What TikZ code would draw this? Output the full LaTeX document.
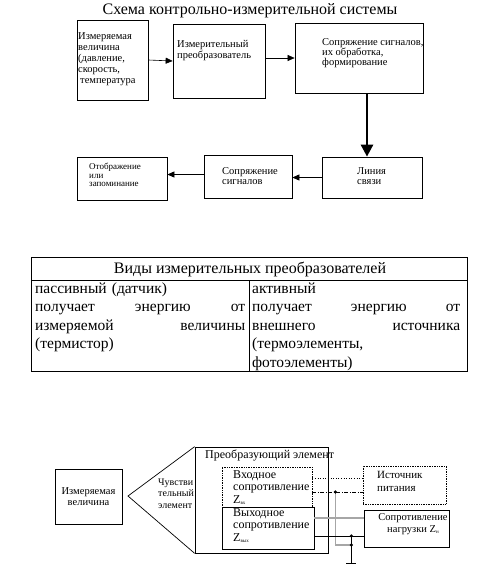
\documentclass[tikz,border=0pt]{standalone}
\usepackage{fontspec}
\setmainfont{Liberation Serif}
\usetikzlibrary{arrows.meta}
\newcommand{\zsub}[1]{Z\raisebox{-1.5pt}{\fontsize{5}{5}\selectfont #1}}
\begin{document}
\begin{tikzpicture}[x=1pt,y=-1pt]
\tikzstyle{box}=[draw, line width=0.7pt, inner sep=0pt]
\tikzstyle{dbox}=[box, densely dotted]
\tikzstyle{txt}=[inner sep=0pt, align=left, anchor=north west, font=\fontsize{10.5}{11}\selectfont]
\tikzstyle{big}=[inner sep=0pt, font=\fontsize{15.5}{18}\selectfont]
\tikzstyle{arr}=[line width=0.6pt, -{Triangle[length=7pt,width=6pt]}]
\tikzstyle{wire}=[line width=0.8pt]
\tikzstyle{gwire}=[line width=1.2pt, gray!70]
\tikzstyle{dot}=[fill, circle, inner sep=0pt, minimum size=3.6pt]
\useasboundingbox (0,0) rectangle (486,568);
\node[big, anchor=base, font=\fontsize{16}{18}\selectfont] (title) at (250,14) {Схема контрольно-измерительной системы};
\node[box, minimum width=71pt, minimum height=80pt] (qty) at (112.5,60) {};
\node[box, minimum width=92pt, minimum height=74pt] (conv) at (219,61) {};
\node[box, minimum width=128pt, minimum height=70pt] (proc) at (359,58) {};
\node[box, minimum width=100pt, minimum height=41pt] (link) at (372,177.5) {};
\node[box, minimum width=88pt, minimum height=43pt] (iface) at (248,176.5) {};
\node[box, minimum width=90pt, minimum height=43pt] (disp) at (122,178.5) {};
\node[txt] (qty-t) at (78,32.5) {Измеряемая\\величина\\(давление,\\скорость,\\\hspace{2pt}температура};
\node[txt, font=\fontsize{10.5}{10.5}\selectfont] (conv-t) at (177,40.5) {Измерительный\\преобразователь};
\node[txt, font=\fontsize{10.5}{10}\selectfont] (proc-t) at (322,38.5) {Сопряжение сигналов,\\их обработка,\\формирование};
\node[txt, font=\fontsize{9}{8.5}\selectfont] (disp-t) at (89,163) {Отображение\\или\\запоминание};
\node[txt, font=\fontsize{10.5}{10}\selectfont] (iface-t) at (222,167.5) {Сопряжение\\сигналов};
\node[txt, font=\fontsize{10.5}{10}\selectfont] (link-t) at (357,167.5) {Линия\\связи};
\draw[arr] (qty.east) -- (conv.west);
\draw[arr] (conv.east |- proc.west) -- (proc.west);
\draw[line width=2.6pt, -{Triangle[length=12pt,width=12pt]}] ([xshift=8pt]proc.south) -- ([xshift=8pt]proc.south |- link.north);
\draw[arr] (link.west) -- (link.west -| iface.east);
\draw[arr] ([yshift=2pt]iface.west) -- ([yshift=2pt]iface.west -| disp.east);
\coordinate (t-nw) at (31,257);
\coordinate (t-se) at (467,371);
\coordinate (t-mid) at (249,280);
\draw[line width=0.7pt] (t-nw) rectangle (t-se);
\draw[line width=0.7pt] (t-nw |- t-mid) -- (t-se |- t-mid);
\draw[line width=0.7pt] (t-mid) -- (t-mid |- t-se);
\node[big, anchor=base, font=\fontsize{16}{18}\selectfont] (head) at (250,273) {Виды измерительных преобразователей};
\node[big, anchor=base west, text width=210pt] (pas1) at (35,293) {пассивный (датчик)};
\node[big, anchor=base west, text width=210pt] (pas2) at (35,311.5) {получает\hfill энергию\hfill от};
\node[big, anchor=base west, text width=210pt] (pas3) at (35,330) {измеряемой\hfill величины};
\node[big, anchor=base west, text width=210pt] (pas4) at (35,348.5) {(термистор)};
\node[big, anchor=base west, text width=208pt] (act1) at (252,293) {активный};
\node[big, anchor=base west, text width=208pt] (act2) at (252,311.5) {получает\hfill энергию\hfill от};
\node[big, anchor=base west, text width=208pt] (act3) at (252,330) {внешнего\hfill источника};
\node[big, anchor=base west, text width=208pt] (act4) at (252,348.5) {(термоэлементы,};
\node[big, anchor=base west, text width=208pt] (act5) at (252,367) {фотоэлементы)};
\node[box, minimum width=67pt, minimum height=55pt, align=center, font=\fontsize{10.5}{11}\selectfont] (meas) at (88.5,496.5) {Измеряемая\\величина};
\node[box, minimum width=133pt, minimum height=106pt] (trans) at (261.5,500) {};
\coordinate (sens-tip) at (128,496);
\draw[line width=0.7pt] (trans.north west) -- (sens-tip) -- (trans.south west);
\node[txt, font=\fontsize{10}{11.5}\selectfont] (sens-t) at (158,478.5) {Чувстви\\тельный\\элемент};
\node[txt, font=\fontsize{12}{12}\selectfont] (trans-t) at (205,450) {Преобразующий элемент};
\node[dbox, minimum width=90pt, minimum height=40pt] (inbox) at (267,487) {};
\node[box, minimum width=92pt, minimum height=42pt] (outbox) at (268,528) {};
\node[dbox, minimum width=83pt, minimum height=38pt] (src) at (404.5,485) {};
\node[box, minimum width=85pt, minimum height=37pt] (load) at (406.5,528.5) {};
\node[txt, font=\fontsize{12}{12.5}\selectfont] (inbox-t) at (233,470) {Входное\\сопротивление\\\zsub{вх}};
\node[txt, font=\fontsize{12}{12.5}\selectfont] (outbox-t) at (233,508) {Выходное\\сопротивление\\\zsub{вых}};
\node[txt, font=\fontsize{11}{13}\selectfont] (src-t) at (377,471) {Источник\\питания};
\node[txt, anchor=north, align=center, font=\fontsize{10.5}{12}\selectfont] (load-t) at (413,513) {Сопротивление\\нагрузки \zsub{н}};
\coordinate (jin) at ([xshift=23pt,yshift=-5pt]inbox.east);
\coordinate (jout) at ([xshift=37pt,yshift=-8pt]outbox.east);
\coordinate (jgnd) at ([yshift=-9pt]jout);
\coordinate (gnd) at ([yshift=-27pt]jout);
\draw[line width=0.6pt, dotted] ([yshift=9pt]inbox.east) -- ([yshift=9pt]inbox.east -| src.west);
\draw[wire, dash pattern=on 4pt off 1.5pt on 1pt off 1.5pt] ([yshift=-5pt]inbox.east) -- ([yshift=-5pt]inbox.east -| src.west);
\draw[gwire] ([yshift=10pt]outbox.east) -- ([yshift=10pt]outbox.east -| load.west);
\draw[gwire] (jin) |- (jgnd);
\draw[wire] ([yshift=-8pt]outbox.east) -- ([yshift=-8pt]outbox.east -| load.west);
\draw[wire] (jout) -- (gnd);
\draw[wire] ([xshift=-5pt]gnd) -- ([xshift=5pt]gnd);
\node[dot] (jin-d) at (jin) {};
\node[dot] (jout-d) at (jout) {};
\node[dot] (jgnd-d) at (jgnd) {};
\end{tikzpicture}
\end{document}
